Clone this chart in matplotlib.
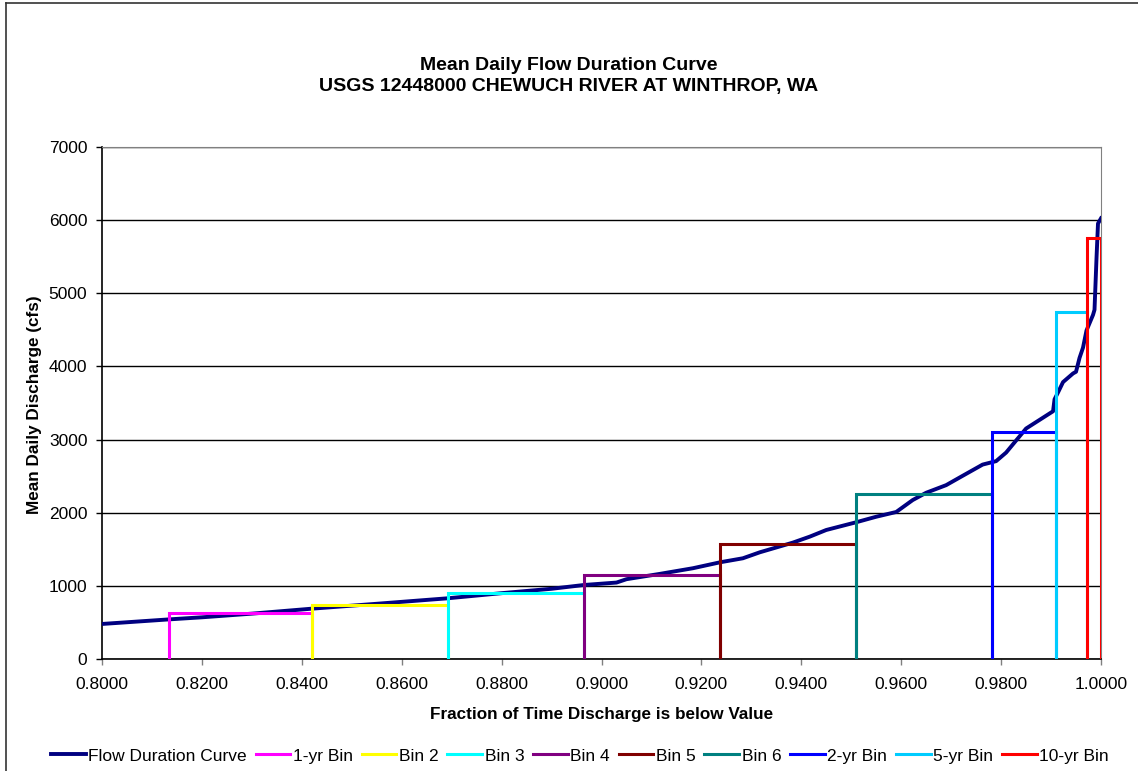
import matplotlib
matplotlib.use("Agg")
import matplotlib.pyplot as plt
from matplotlib.lines import Line2D

plt.rcParams['font.family'] = ['Liberation Sans', 'DejaVu Sans']

# flow duration curve (fraction of time below value, mean daily discharge cfs)
fraction = [0.8000, 0.8135, 0.8200, 0.8300, 0.8420, 0.8550, 0.8692, 0.8800,
            0.8900, 0.8965, 0.9030, 0.9050, 0.9117, 0.9183, 0.9238, 0.9283,
            0.9317, 0.9383, 0.9417, 0.9450, 0.9509, 0.9550, 0.9590, 0.9623,
            0.9650, 0.9690, 0.9726, 0.9763, 0.9790, 0.9810, 0.9830, 0.9850,
            0.9877, 0.9904, 0.9907, 0.9914, 0.9924, 0.9944, 0.9950, 0.9957,
            0.9964, 0.9971, 0.9984, 0.9987, 0.9991, 0.9994, 1.0000]
discharge = [479, 542, 570, 620, 688, 755, 830, 900,
             960, 1012, 1045, 1091, 1164, 1241, 1323, 1377,
             1459, 1591, 1673, 1764, 1868, 1945, 2010, 2173,
             2273, 2377, 2516, 2658, 2705, 2822, 2987, 3151,
             3269, 3387, 3551, 3645, 3786, 3904, 3927, 4116,
             4257, 4492, 4704, 4774, 5480, 5954, 6025]

# bins: left edge, right edge, discharge
bin_names = ['1-yr Bin', 'Bin 2', 'Bin 3', 'Bin 4', 'Bin 5', 'Bin 6',
             '2-yr Bin', '5-yr Bin', '10-yr Bin']
bin_start = [0.8135, 0.8420, 0.8692, 0.8965, 0.9238, 0.9510, 0.9782, 0.9910, 0.9971]
bin_end = [0.8420, 0.8692, 0.8965, 0.9238, 0.9510, 0.9782, 0.9910, 0.9971, 1.0000]
bin_flow = [625, 743, 898, 1148, 1568, 2250, 3100, 4750, 5750]
bin_colors = ['#FF00FF', '#FFFF00', '#00FFFF', '#800080', '#800000',
              '#008080', '#0000FF', '#00CCFF', '#FF0000']

fig = plt.figure(figsize=(11.38, 7.71), dpi=100)
W, H = 1138, 771
ax = fig.add_axes([102 / W, (H - 659) / H, 999 / W, 512 / H])

ax.plot(fraction, discharge, color='#000080', lw=2.8, label='Flow Duration Curve',
        zorder=3)
for x0, x1, q, c, name in zip(bin_start, bin_end, bin_flow, bin_colors, bin_names):
    ax.plot([x0, x0, x1, x1], [0, q, q, 0], color=c, lw=2.2, label=name, zorder=4,
            solid_joinstyle='miter')

ax.set_xlim(0.8, 1.0)
ax.set_ylim(0, 7000)
ax.set_xticks([0.8 + 0.02 * i for i in range(11)])
ax.set_xticklabels(['%.4f' % (0.8 + 0.02 * i) for i in range(11)])
ax.set_yticks(range(0, 7001, 1000))
ax.tick_params(labelsize=12.5, length=4, width=1, color='#808080', direction='out')
ax.tick_params(axis='x', pad=9)
ax.tick_params(axis='y', color='black', pad=6.5)
ax.grid(axis='y', color='black', lw=1)
ax.set_axisbelow(True)
for side in ['top', 'right']:
    ax.spines[side].set_color('#808080')
for side in ['left', 'bottom']:
    ax.spines[side].set_color('black')
    ax.spines[side].set_linewidth(1.2)

fig.text(0.5, 1 - 66 / H, 'Mean Daily Flow Duration Curve', ha='center', va='center',
         fontsize=14, fontweight='bold')
fig.text(0.5, 1 - 87 / H, 'USGS 12448000 CHEWUCH RIVER AT WINTHROP, WA', ha='center',
         va='center', fontsize=14, fontweight='bold')
fig.text(35 / W, 1 - 405 / H, 'Mean Daily Discharge (cfs)', rotation=90, ha='center',
         va='center', fontsize=12.3, fontweight='bold')
fig.text(602 / W, 1 - 714 / H, 'Fraction of Time Discharge is below Value', ha='center',
         va='center', fontsize=12.3, fontweight='bold')

handles, labels = ax.get_legend_handles_labels()
fig.legend(handles, labels, ncol=10, loc='center', bbox_to_anchor=(580 / W, 1 - 756 / H),
           frameon=False, fontsize=12.5, handlelength=2.0, handletextpad=0.15,
           columnspacing=0.5)

# chart area border (left and top edges)
fig.add_artist(Line2D([5.5 / W, 5.5 / W], [0, 1 - 3 / H], transform=fig.transFigure,
                      color='#333333', lw=1.2))
fig.add_artist(Line2D([5.5 / W, 1], [1 - 3 / H, 1 - 3 / H], transform=fig.transFigure,
                      color='#333333', lw=1.2))

fig.savefig('out.png', dpi=100)
